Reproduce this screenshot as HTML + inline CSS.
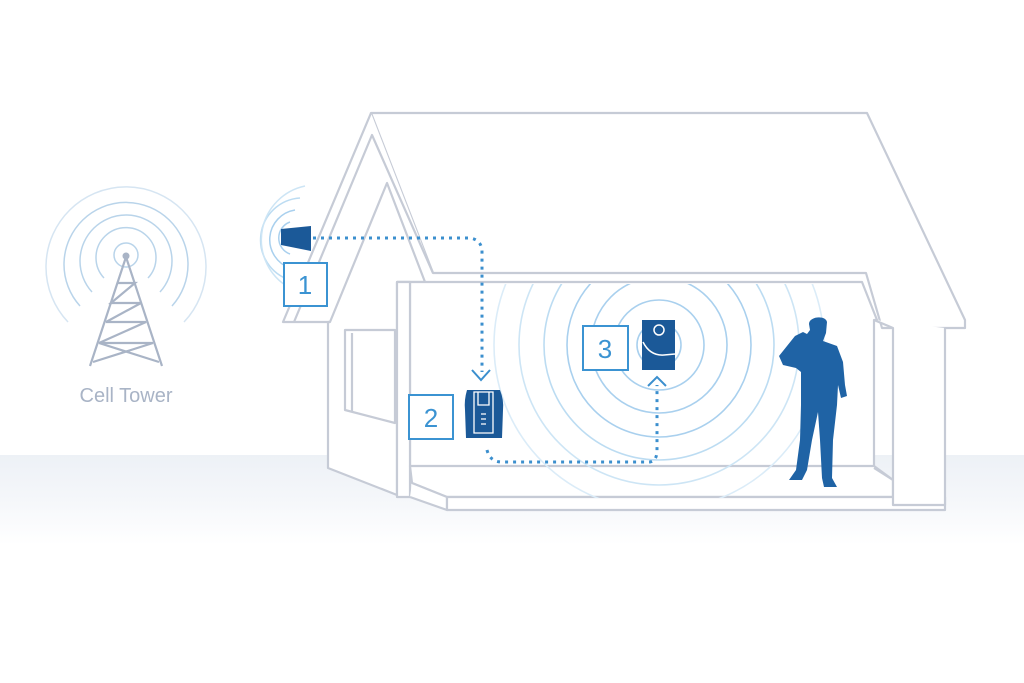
<!DOCTYPE html>
<html><head><meta charset="utf-8"><style>
html,body{margin:0;padding:0;background:#fff;}
svg{display:block;}
</style></head><body>
<svg width="1024" height="683" viewBox="0 0 1024 683" xmlns="http://www.w3.org/2000/svg">
<defs>
<linearGradient id="g" x1="0" y1="0" x2="0" y2="1">
<stop offset="0" stop-color="#edf1f6"/><stop offset="0.5" stop-color="#f5f7fa"/><stop offset="1" stop-color="#ffffff"/>
</linearGradient>
<clipPath id="ic"><rect x="411" y="284" width="463" height="214"/></clipPath>
</defs>
<rect x="0" y="0" width="1024" height="683" fill="#fff"/>
<rect x="0" y="455" width="1024" height="90" fill="url(#g)"/>

<!-- Cell tower -->
<g fill="none" stroke="#b9d4ea" stroke-width="1.5">
<circle cx="126" cy="255" r="12"/>
<path d="M104,278 A30,30 0 1 1 148,278"/>
<path d="M92,292 A46,46 0 1 1 160,292"/>
<path d="M80,306 A62,62 0 1 1 172,306"/>
<path d="M68,322 A80,80 0 1 1 184,322" stroke="#d6e5f2"/>
</g>
<g stroke="#a9b4c6" stroke-width="2.2" fill="none">
<path d="M126,257 L90,366 M126,257 L162,366"/>
<path d="M117,283 L135,283 L111,303 L141,303 L106,322 L146,322 L99,343 L153,343 L93,362 M159,362 L99,343"/>
</g>
<circle cx="126" cy="256" r="3.5" fill="#a9b4c6"/>
<text x="126" y="402" font-family="Liberation Sans, sans-serif" font-size="20" fill="#a9b4c6" text-anchor="middle">Cell Tower</text>

<!-- House outlines -->
<g fill="#fff" stroke="#c6cbd6" stroke-width="2.2" stroke-linejoin="round">
<path d="M371,113 L867,113 L965,320 L965,328 L882,328 L866,273 L433,273 Z"/>
<path d="M371,113 L283,322 L294,322 L372,135 L433,273"/>
<path d="M387,183 L330,322 L328,322 L328,468 L397,495 L397,282 L425,282 Z"/>
<path d="M294,322 L330,322"/>
<path d="M345,330 L395,330 L395,423 L345,410 Z"/>
<path d="M352,333 L352,412"/>
<path d="M397,282 L862,282 L877,320 L874,320 L874,468 L410,468 L410,282"/>
<path d="M397,282 L410,282 L410,497 L397,497 Z"/>
<path d="M410,466 L874,466 L893,480 L893,497 L447,497 L412,483 Z"/>
<path d="M412,483 L447,497 L447,510 L410,497"/>
<path d="M447,497 L945,497 L945,510 L447,510 Z"/>
<path d="M874,320 L893,328 L893,505 L945,505 L945,328"/>
<path d="M874,468 L893,480"/>
</g>

<!-- interior circles -->
<g clip-path="url(#ic)" fill="none" stroke="#a9d0ee" stroke-width="1.6">
<circle cx="659" cy="345" r="22"/>
<circle cx="659" cy="345" r="45"/>
<circle cx="659" cy="345" r="68"/>
<circle cx="659" cy="345" r="92"/>
<circle cx="659" cy="345" r="115" stroke="#bcdcf2"/>
<circle cx="659" cy="345" r="140" stroke="#cde5f5"/>
<circle cx="659" cy="345" r="165" stroke="#dbecf8"/>
</g>

<!-- antenna arcs -->
<g fill="none" stroke="#a9d0ee" stroke-width="1.5">
<path d="M290,222 A17,17 0 0 0 290,254"/>
<path d="M295,210 A30,30 0 0 0 290,268"/>
<path d="M300,198 A42,42 0 0 0 290,280" stroke="#bcdcf2"/>
<path d="M305,186 A55,55 0 0 0 285,285" stroke="#cde5f5"/>
</g>

<path d="M281,229 L311,226 L311,251 L281,245 Z" fill="#1b5998"/>

<g fill="none" stroke="#3b8fce" stroke-width="3" stroke-dasharray="3,5">
<path d="M313,238 L470,238 Q482,240 482,252 L482,372"/>
<path d="M487,450 Q490,462 502,462 L650,462 Q657,461 657,450 L657,385"/>
</g>
<g fill="none" stroke="#3b8fce" stroke-width="2">
<path d="M472,370 L481,380 L490,370"/>
<path d="M648,386 L657,377 L666,386"/>
</g>

<g fill="#fff" stroke="#3b93d2" stroke-width="2">
<rect x="284" y="263" width="43" height="43"/>
<rect x="409" y="395" width="44" height="44"/>
<rect x="583" y="326" width="45" height="44"/>
</g>
<g font-family="Liberation Sans, sans-serif" font-size="26" fill="#3b93d2" text-anchor="middle">
<text x="305" y="294">1</text>
<text x="431" y="427">2</text>
<text x="605" y="358">3</text>
</g>

<path d="M467,390 L500,390 Q504,400 503,410 L502,438 L466,438 L465,410 Q464,400 467,390 Z" fill="#1b5998"/>
<path d="M474,392 L493,392 L493,433 L474,433 Z" fill="none" stroke="#fff" stroke-width="1.3"/>
<path d="M478,392 L478,405 L489,405 L489,392" fill="none" stroke="#fff" stroke-width="1.3"/>
<g stroke="#fff" stroke-width="1.3"><path d="M481,414 L486,414 M481,419 L486,419 M481,424 L486,424"/></g>

<rect x="642" y="320" width="33" height="50" fill="#1b5998"/>
<circle cx="659" cy="330" r="5" fill="none" stroke="#fff" stroke-width="1.5"/>
<path d="M643,342 Q650,356 664,355 L675,354" fill="none" stroke="#fff" stroke-width="1.5"/>

<!-- person -->
<path fill="#1f63a5" d="M809,324 C809,316 826,315 827,322 L826,333 L823,341 L837,346 L843,362 L845,385 L847,396 L841,398 L838,385 L837,405 L833,440 L832,478 L837,487 L824,487 L822,478 L820,440 L818,412 L812,440 L807,470 L802,480 L789,480 L796,470 L800,440 L801,405 L801,372 L796,368 L783,365 L779,356 L795,336 L803,332 L807,334 L810,330 Z"/>
</svg>
</body></html>
